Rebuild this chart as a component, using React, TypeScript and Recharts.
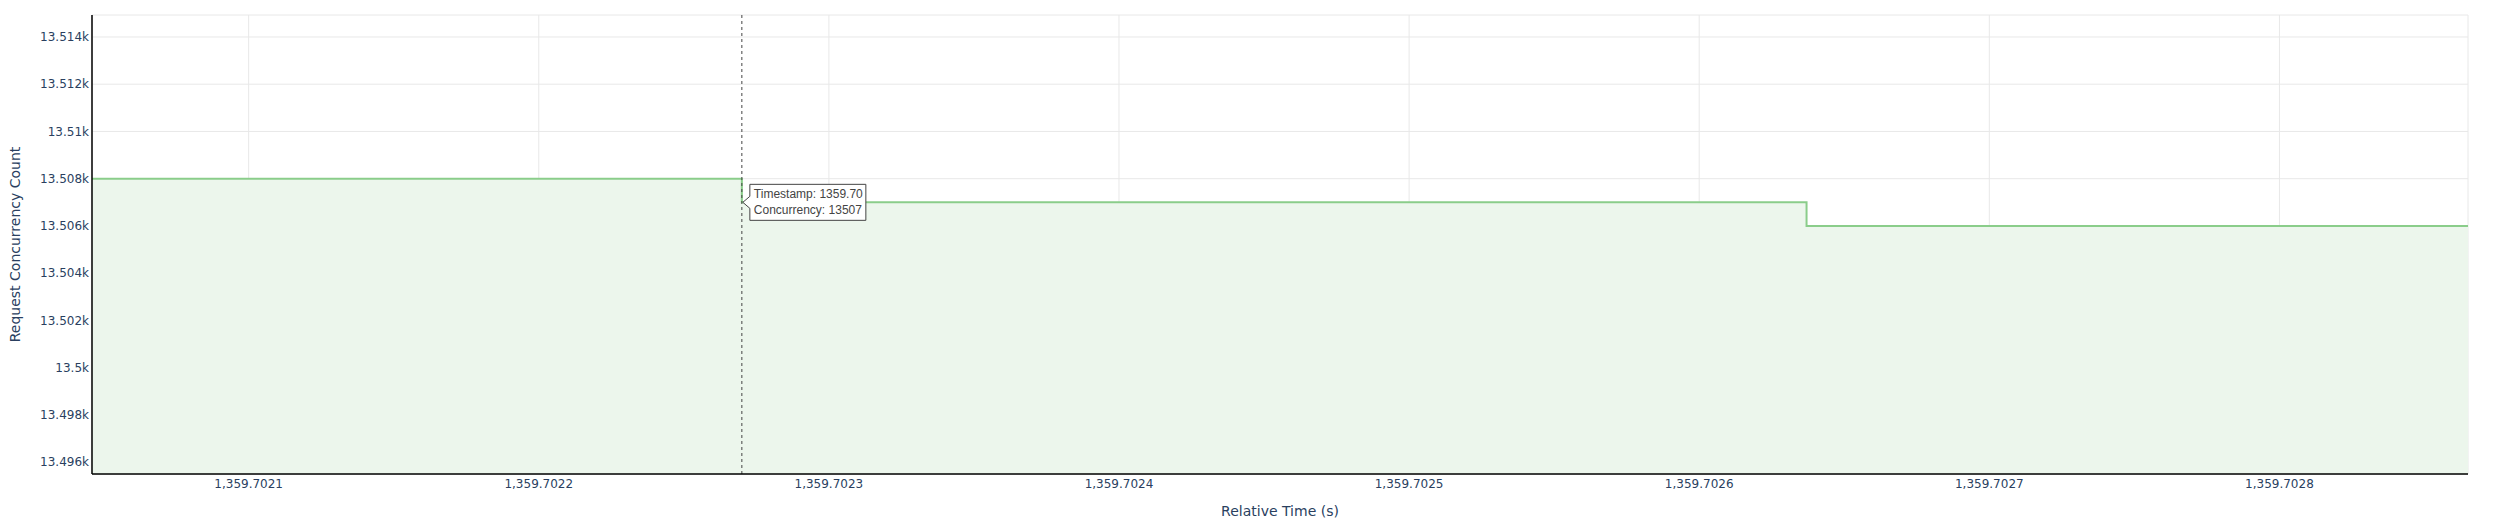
import { AreaChart, Area, XAxis, YAxis, CartesianGrid, ReferenceLine, ReferenceDot } from "recharts";

// step series (first point sits left of the visible window)
const times = [1359.702, 1359.70227, 1359.702637, 1359.703];
const concurrency = [13508, 13507, 13506, 13506];

const xTicks = [1359.7021, 1359.7022, 1359.7023, 1359.7024, 1359.7025, 1359.7026, 1359.7027, 1359.7028];
const yTicks = [13496, 13498, 13500, 13502, 13504, 13506, 13508, 13510, 13512, 13514];

const hoverTime = 1359.70227;
const hoverValue = 13507;
const hoverLines = ["Timestamp: 1359.70", "Concurrency: 13507"];

const data = times.map((t, i) => ({ t, c: concurrency[i] }));

const TICK_FONT = { fontFamily: "DejaVu Sans", fontSize: 12, fill: "#2a3f5f" };

const fmtX = (v: number) =>
  v.toLocaleString("en-US", { minimumFractionDigits: 4, maximumFractionDigits: 4 });
const fmtY = (v: number) => `${+(v / 1000).toFixed(3)}k`;

// plotly-style hover label with a small arrow pointing at the point
const HoverLabel = (props: any) => {
  const { cx, cy } = props;
  if (cx == null || cy == null) return null;
  const left = cx + 8;
  const w = 116;
  const h = 36;
  const top = cy - h / 2;
  const d = `M${cx + 1},${cy} L${left},${cy - 6} V${top} H${left + w} V${top + h} H${left} V${cy + 6} Z`;
  return (
    <g>
      <path d={d} fill="#fff" stroke="#444" strokeWidth={1} />
      {hoverLines.map((line, i) => (
        <text
          key={i}
          x={left + 4}
          y={top + 14 + i * 16}
          fontFamily="Liberation Sans"
          fontSize={12}
          fill="#444"
        >
          {line}
        </text>
      ))}
    </g>
  );
};

export default function App() {
  return (
    <div style={{ position: "fixed", left: 0, top: 0, background: "#fff" }}>
      <AreaChart
        width={2495}
        height={532}
        data={data}
        margin={{ top: 15, right: 27, left: 0, bottom: 0 }}
      >
        <CartesianGrid stroke="#e8e8e8" strokeWidth={1} />
        <XAxis
          dataKey="t"
          type="number"
          domain={[1359.702046, 1359.702865]}
          allowDataOverflow
          ticks={xTicks}
          tickFormatter={fmtX}
          tick={TICK_FONT}
          tickLine={false}
          tickSize={0}
          tickMargin={5}
          height={58}
          axisLine={{ stroke: "#000", strokeWidth: 1.5 }}
          label={{
            value: "Relative Time (s)",
            position: "insideBottom",
            offset: 16,
            style: { fontFamily: "DejaVu Sans", fontSize: 14, fill: "#2a3f5f" },
          }}
        />
        <YAxis
          type="number"
          domain={[13495.5, 13514.93]}
          allowDataOverflow
          ticks={yTicks}
          tickFormatter={fmtY}
          tick={TICK_FONT}
          tickLine={false}
          tickSize={0}
          tickMargin={3}
          width={92}
          axisLine={{ stroke: "#000", strokeWidth: 1.5 }}
          label={{
            value: "Request Concurrency Count",
            angle: -90,
            position: "insideLeft",
            offset: 15,
            style: { textAnchor: "middle", fontFamily: "DejaVu Sans", fontSize: 14, fill: "#2a3f5f" },
          }}
        />
        <Area
          type="stepAfter"
          dataKey="c"
          stroke="#8acd8a"
          strokeWidth={2}
          fill="#ecf6ec"
          fillOpacity={1}
          dot={false}
          activeDot={false}
          isAnimationActive={false}
        />
        <ReferenceLine x={hoverTime} stroke="#444" strokeWidth={1} strokeDasharray="3 3" />
        <ReferenceDot x={hoverTime} y={hoverValue} shape={HoverLabel} />
      </AreaChart>
    </div>
  );
}
